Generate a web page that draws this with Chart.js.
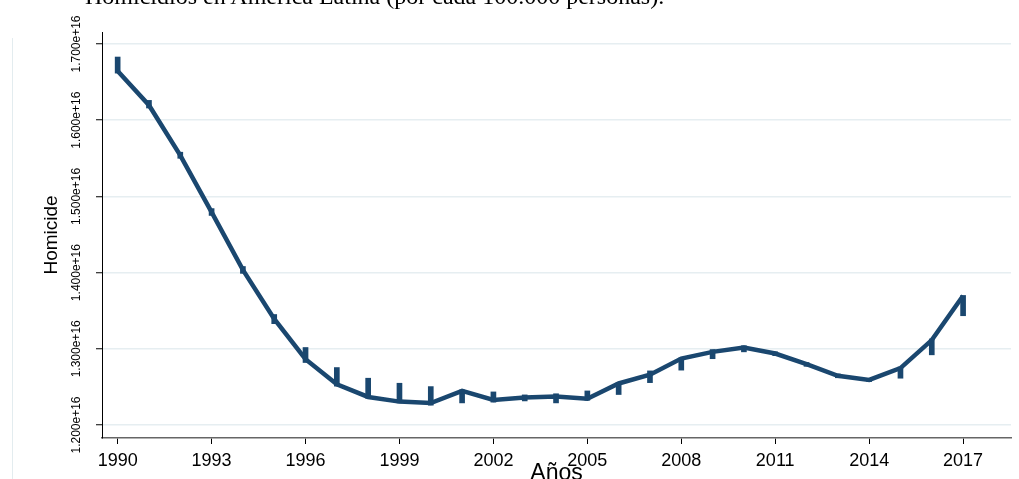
<!DOCTYPE html>
<html><head><meta charset="utf-8">
<script src="https://cdn.jsdelivr.net/npm/chart.js@4.4.1/dist/chart.umd.min.js"></script>
<style>
html,body{margin:0;padding:0;background:#fff;overflow:hidden}
#wrap{position:relative;width:1019px;height:479px;overflow:hidden;background:#fff}
#title{position:absolute;left:85px;top:-16px;font:24px/24px "Liberation Serif","Times New Roman",serif;color:#000;white-space:nowrap}
#edge{position:absolute;left:12px;top:38px;width:1px;height:441px;background:#e3ecef}
canvas{position:absolute;left:0;top:0}
</style></head><body>
<div id="wrap"><div id="edge"></div><canvas id="c" width="1019" height="479"></canvas><div id="title">Homicidios en América Latina (por cada 100.000 personas).</div></div>
<script>
const years = [1990,1991,1992,1993,1994,1995,1996,1997,1998,1999,2000,2001,2002,2003,2004,2005,2006,2007,2008,2009,2010,2011,2012,2013,2014,2015,2016,2017];
const homicide = [16.645e15,16.197e15,15.539e15,14.793e15,14.036e15,13.391e15,12.864e15,12.535e15,12.368e15,12.307e15,12.289e15,12.447e15,12.329e15,12.360e15,12.375e15,12.345e15,12.545e15,12.660e15,12.872e15,12.960e15,13.017e15,12.938e15,12.798e15,12.645e15,12.592e15,12.746e15,13.114e15,13.697e15];
const ciLow = [16.618e15,16.160e15,15.500e15,14.750e15,13.990e15,13.330e15,12.820e15,12.510e15,12.350e15,12.290e15,12.260e15,12.290e15,12.300e15,12.316e15,12.290e15,12.325e15,12.400e15,12.556e15,12.720e15,12.870e15,12.960e15,12.910e15,12.770e15,12.620e15,12.570e15,12.614e15,12.921e15,13.434e15];
const ciHigh = [16.829e15,16.260e15,15.580e15,14.840e15,14.080e15,13.450e15,13.017e15,12.754e15,12.614e15,12.548e15,12.504e15,12.460e15,12.434e15,12.395e15,12.410e15,12.447e15,12.560e15,12.710e15,12.880e15,12.990e15,13.040e15,12.960e15,12.820e15,12.670e15,12.610e15,12.760e15,13.130e15,13.700e15];
const xTicks = [1990,1993,1996,1999,2002,2005,2008,2011,2014,2017];
const yTicks = [1.2e16,1.3e16,1.4e16,1.5e16,1.6e16,1.7e16];

const navy = '#1a476f';
const sans = 'Liberation Sans, Arial, sans-serif';

new Chart(document.getElementById('c'), {
  type: 'line',
  data: {
    datasets: [
      { type: 'line', data: years.map((x, i) => ({x: x, y: homicide[i]})),
        borderColor: navy, borderWidth: 4.5, pointRadius: 0, tension: 0, fill: false, order: 1 },
      { type: 'bar', data: years.map((x, i) => ({x: x, y: [ciLow[i], ciHigh[i]]})),
        backgroundColor: navy, borderWidth: 0, barThickness: 5, order: 2 }
    ]
  },
  options: {
    responsive: false, animation: false, devicePixelRatio: 1,
    layout: {padding: {top: 32, right: 8, bottom: 0, left: 0}},
    plugins: {legend: {display: false}, tooltip: {enabled: false}, title: {display: false}},
    scales: {
      x: {
        type: 'linear', min: 1989.5, max: 2018.53, offset: false,
        afterBuildTicks: s => { s.ticks = xTicks.map(v => ({value: v})); },
        afterFit: s => { s.height = 41; },
        grid: {display: true, drawOnChartArea: false, drawTicks: true, tickLength: 6, tickColor: '#000', tickWidth: 1, offset: false},
        border: {display: true, color: '#666', width: 1.5},
        ticks: {font: {family: sans, size: 18}, color: '#000', padding: 6, maxRotation: 0, minRotation: 0, autoSkip: false, callback: v => String(v)},
        title: {display: true, text: 'Años', color: '#000', font: {family: sans, size: 23, lineHeight: 1}, padding: {top: 0, bottom: -6.5}}
      },
      y: {
        type: 'linear', min: 11.8294e15, max: 17.1575e15,
        afterBuildTicks: s => { s.ticks = yTicks.map(v => ({value: v})); },
        afterFit: s => { s.width = 102; },
        grid: {color: '#e6eef1', lineWidth: 1.5, tickColor: '#000', tickLength: 6, tickWidth: 1},
        border: {display: true, color: '#000', width: 1},
        ticks: {font: {family: sans, size: 12}, color: '#000', minRotation: 90, maxRotation: 90, crossAlign: 'center', padding: -9, autoSkip: false,
                callback: v => (v / 1e16).toFixed(3) + 'e+16'},
        title: {display: true, text: 'Homicide', color: '#000', font: {family: sans, size: 19, lineHeight: 1}, padding: {top: 42, bottom: 0}}
      }
    }
  }
});
</script>
</body></html>
